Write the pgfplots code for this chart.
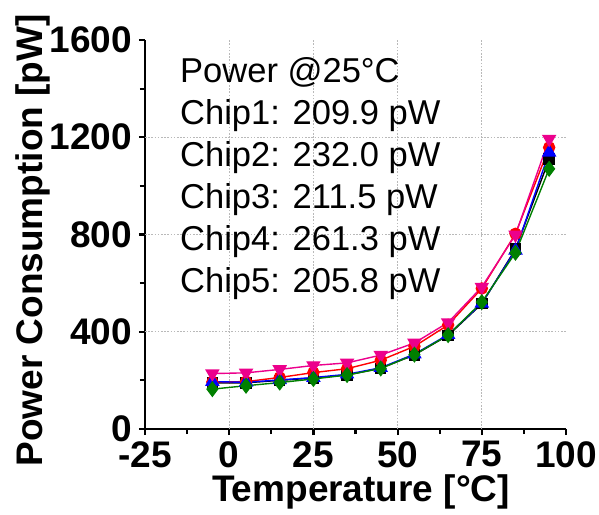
\documentclass[border=0pt]{standalone}
\usepackage{fontspec}
\setmainfont{Liberation Sans}
\usepackage{pgfplots}
\pgfplotsset{compat=1.18}
\begin{document}
\begin{tikzpicture}
\begin{axis}[
  name=ax,
  scale only axis,
  width=421pt, height=389pt,
  xmin=-25, xmax=100, ymin=0, ymax=1600,
  axis x line*=bottom, axis y line*=left,
  axis line style={line width=2.6pt},
  xtick={-25,0,25,50,75,100},
  ytick={0,400,800,1200,1600},
  minor x tick num=1, minor y tick num=1,
  tick align=outside,
  major tick length=6pt, minor tick length=5pt,
  every tick/.style={line width=2.2pt, black},
  /pgf/number format/assume math mode=true,
  /pgf/number format/1000 sep={},
  tick label style={font=\fontsize{37}{37}\selectfont\bfseries, inner sep=0pt},
  xticklabel style={anchor=north, yshift=-6pt},
  yticklabel style={anchor=east, xshift=-7pt},
  extra x ticks={0,25,50,75},
  extra x tick labels={},
  extra y ticks={400,800,1200},
  extra y tick labels={},
  extra tick style={grid=major, major tick length=0pt},
  major grid style={gray!55, line width=0.8pt, dash pattern=on 1.6pt off 1.6pt},
  xlabel={Temperature [°C]},
  ylabel={Power Consumption [pW]},
  label style={font=\fontsize{37}{37}\selectfont\bfseries, inner sep=0pt},
  xlabel style={at={(axis description cs:0.513,-0.187)}, anchor=base},
  ylabel style={at={(axis description cs:-0.265,0.485)}, anchor=center},
  every axis plot/.append style={line width=1.4pt},
  clip=false,
]
\addplot[black, mark=square*, mark size=5pt] coordinates {
(-5,190) (5,190) (15,200) (25,209.9) (35,222) (45,250) (55,305) (65,385) (75,515) (85,740) (95,1110)};
\addplot[red, mark=*, mark size=5.5pt] coordinates {
(-5,193) (5,195) (15,212) (25,232.0) (35,248) (45,283) (55,340) (65,428) (75,578) (85,803) (95,1158)};
\addplot[blue, mark=triangle*, mark size=7pt] coordinates {
(-5,195) (5,192) (15,202) (25,211.5) (35,225) (45,252) (55,308) (65,388) (75,517) (85,735) (95,1138)};
\addplot[magenta, mark=triangle*, mark size=7pt, mark options={rotate=180}] coordinates {
(-5,228) (5,231) (15,245) (25,261.3) (35,272) (45,304) (55,354) (65,438) (75,584) (85,799) (95,1193)};
\addplot[green!50!black, mark=diamond*, mark size=7pt] coordinates {
(-5,164) (5,178) (15,191) (25,205.8) (35,222) (45,249) (55,306) (65,386) (75,522) (85,725) (95,1070)};
\begin{scope}[every node/.style={font=\fontsize{34.5}{34.5}\selectfont, anchor=base west, inner sep=0pt}]
\node at (axis cs:-14.6,1424) {Power @25°C};
\node at (axis cs:-14.6,1251) {Chip1: 209.9 pW};
\node at (axis cs:-14.6,1079) {Chip2: 232.0 pW};
\node at (axis cs:-14.6,907) {Chip3: 211.5 pW};
\node at (axis cs:-14.6,734) {Chip4: 261.3 pW};
\node at (axis cs:-14.6,562) {Chip5: 205.8 pW};
\end{scope}
\end{axis}
\pgfresetboundingbox
\useasboundingbox ([shift={(-145pt,-85pt)}]ax.south west) rectangle ++(599pt,514pt);
\end{tikzpicture}
\end{document}
